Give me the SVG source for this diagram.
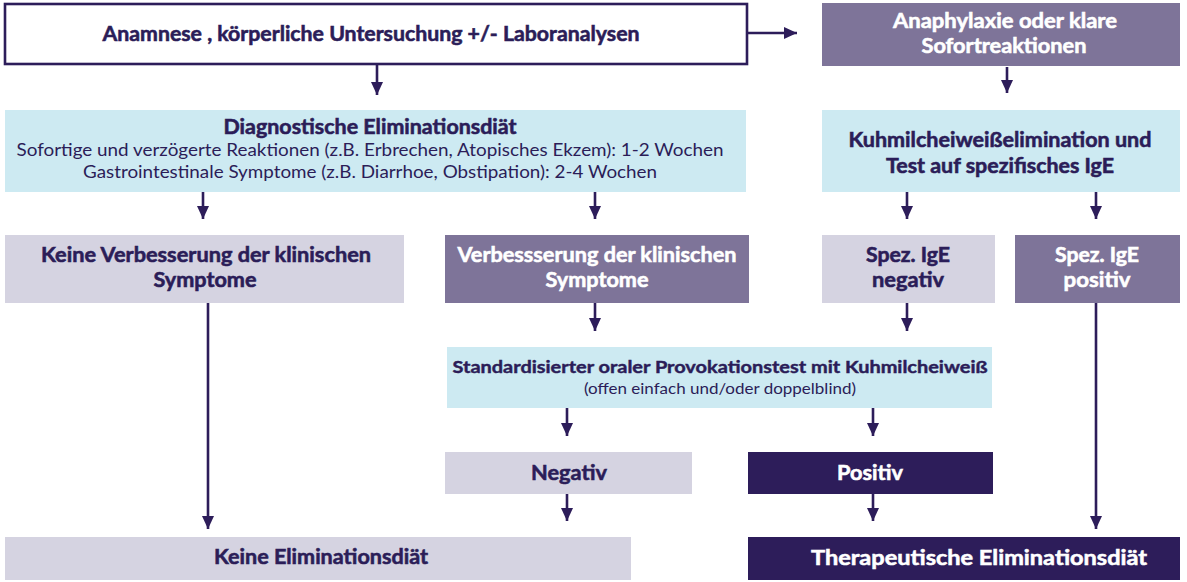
<svg xmlns="http://www.w3.org/2000/svg" width="1187" height="582" viewBox="0 0 1187 582">
<style>
.t{font-family:Lato,"Open Sans","Liberation Sans",sans-serif;text-anchor:middle}
.b{font-weight:bold;font-size:20px;stroke-width:0.55}
.r{font-weight:normal}
.dk{fill:#2b1d58}
.b.dk{stroke:#2b1d58}
.wh{fill:#ffffff}
.b.wh{stroke:#ffffff}
.lg{font-size:21px}
.cyan{fill:#cdeaf2}
.pur{fill:#7e7499}
.lil{fill:#d5d3e1}
.nav{fill:#2d1d5a}
.ln{stroke:#2d1d5a;stroke-width:2.6;fill:none}
</style>
<defs>
<marker id="ah" markerUnits="userSpaceOnUse" markerWidth="14" markerHeight="14" viewBox="0 0 14 14" refX="13" refY="7" orient="auto">
<path d="M0,1 L13,7 L0,13 z" fill="#2d1d5a"/>
</marker>
</defs>
<rect width="1187" height="582" fill="#ffffff"/>
<g id="connectors">
<line class="ln" x1="748" y1="33" x2="797" y2="33" marker-end="url(#ah)"/>
<line class="ln" x1="377" y1="65" x2="377" y2="95" marker-end="url(#ah)"/>
<line class="ln" x1="1007" y1="67" x2="1007" y2="93" marker-end="url(#ah)"/>
<line class="ln" x1="203" y1="192" x2="203" y2="219" marker-end="url(#ah)"/>
<line class="ln" x1="595" y1="192" x2="595" y2="219" marker-end="url(#ah)"/>
<line class="ln" x1="907" y1="192" x2="907" y2="219" marker-end="url(#ah)"/>
<line class="ln" x1="1096" y1="192" x2="1096" y2="219" marker-end="url(#ah)"/>
<line class="ln" x1="208" y1="303" x2="208" y2="529" marker-end="url(#ah)"/>
<line class="ln" x1="595" y1="303" x2="595" y2="331" marker-end="url(#ah)"/>
<line class="ln" x1="907" y1="303" x2="907" y2="331" marker-end="url(#ah)"/>
<line class="ln" x1="1096" y1="303" x2="1096" y2="529" marker-end="url(#ah)"/>
<line class="ln" x1="567" y1="408" x2="567" y2="436" marker-end="url(#ah)"/>
<line class="ln" x1="873" y1="408" x2="873" y2="436" marker-end="url(#ah)"/>
<line class="ln" x1="567" y1="494" x2="567" y2="521" marker-end="url(#ah)"/>
<line class="ln" x1="873" y1="494" x2="873" y2="521" marker-end="url(#ah)"/>
</g>
<g id="anamnese">
<rect x="5" y="4" width="742" height="60" fill="#ffffff" stroke="#2d1d5a" stroke-width="2.6"/>
<text class="t b dk" x="371" y="41" textLength="537" lengthAdjust="spacingAndGlyphs">Anamnese , körperliche Untersuchung +/- Laboranalysen</text>
</g>
<g id="anaphylaxie">
<rect class="pur" x="822" y="3" width="358" height="63"/>
<text class="t b wh" x="1005" y="28" textLength="224" lengthAdjust="spacingAndGlyphs">Anaphylaxie oder  klare</text>
<text class="t b wh" x="1004" y="53" textLength="165" lengthAdjust="spacingAndGlyphs">Sofortreaktionen</text>
</g>
<g id="diagnostische">
<rect class="cyan" x="5" y="110" width="741" height="82"/>
<text class="t b dk" x="370" y="134" textLength="293" lengthAdjust="spacingAndGlyphs">Diagnostische Eliminationsdiät</text>
<text class="t r dk" x="370" y="156" font-size="17" textLength="707" lengthAdjust="spacingAndGlyphs">Sofortige und verzögerte Reaktionen (z.B. Erbrechen, Atopisches  Ekzem): 1-2 Wochen</text>
<text class="t r dk" x="370" y="178" font-size="17" textLength="574" lengthAdjust="spacingAndGlyphs">Gastrointestinale Symptome (z.B. Diarrhoe, Obstipation): 2-4 Wochen</text>
</g>
<g id="kuhmilch">
<rect class="cyan" x="822" y="110" width="358" height="82"/>
<text class="t b dk" x="1000" y="147" textLength="303" lengthAdjust="spacingAndGlyphs">Kuhmilcheiweißelimination und</text>
<text class="t b dk" x="1000" y="173" textLength="228" lengthAdjust="spacingAndGlyphs">Test auf spezifisches IgE</text>
</g>
<g id="keine-verbesserung">
<rect class="lil" x="5" y="235" width="399" height="68"/>
<text class="t b dk" x="206" y="262" textLength="330" lengthAdjust="spacingAndGlyphs">Keine Verbesserung der klinischen</text>
<text class="t b dk" x="205" y="287" textLength="103" lengthAdjust="spacingAndGlyphs">Symptome</text>
</g>
<g id="verbesserung">
<rect class="pur" x="445" y="235" width="304" height="68"/>
<text class="t b wh" x="597" y="262" textLength="279" lengthAdjust="spacingAndGlyphs">Verbessserung der klinischen</text>
<text class="t b wh" x="597" y="287" textLength="103" lengthAdjust="spacingAndGlyphs">Symptome</text>
</g>
<g id="ige-negativ">
<rect class="lil" x="822" y="235" width="173" height="68"/>
<text class="t b dk" x="908" y="262" textLength="84" lengthAdjust="spacingAndGlyphs">Spez. IgE</text>
<text class="t b dk" x="908" y="287" textLength="72" lengthAdjust="spacingAndGlyphs">negativ</text>
</g>
<g id="ige-positiv">
<rect class="pur" x="1015" y="235" width="165" height="68"/>
<text class="t b wh" x="1097" y="262" textLength="84" lengthAdjust="spacingAndGlyphs">Spez. IgE</text>
<text class="t b wh" x="1097" y="287" textLength="67" lengthAdjust="spacingAndGlyphs">positiv</text>
</g>
<g id="provokationstest">
<rect class="cyan" x="447" y="347" width="545" height="61"/>
<text class="t b dk" x="720" y="373" style="font-size:17.5px;stroke-width:0.45" textLength="535" lengthAdjust="spacingAndGlyphs">Standardisierter  oraler Provokationstest mit Kuhmilcheiweiß</text>
<text class="t r dk" x="720" y="394" font-size="15" textLength="272" lengthAdjust="spacingAndGlyphs">(offen einfach  und/oder doppelblind)</text>
</g>
<g id="negativ">
<rect class="lil" x="445" y="452" width="247" height="42"/>
<text class="t b lg dk" x="569" y="480" textLength="76" lengthAdjust="spacingAndGlyphs">Negativ</text>
</g>
<g id="positiv">
<rect class="nav" x="748" y="452" width="245" height="42"/>
<text class="t b lg wh" x="870" y="480" textLength="66" lengthAdjust="spacingAndGlyphs">Positiv</text>
</g>
<g id="keine-elimination">
<rect class="lil" x="5" y="537" width="626" height="43"/>
<text class="t b dk" x="321" y="564" textLength="214" lengthAdjust="spacingAndGlyphs">Keine Eliminationsdiät</text>
</g>
<g id="therapeutische">
<rect class="nav" x="748" y="537" width="432" height="43"/>
<text class="t b lg wh" x="979" y="565" textLength="336" lengthAdjust="spacingAndGlyphs">Therapeutische Eliminationsdiät</text>
</g>
</svg>
